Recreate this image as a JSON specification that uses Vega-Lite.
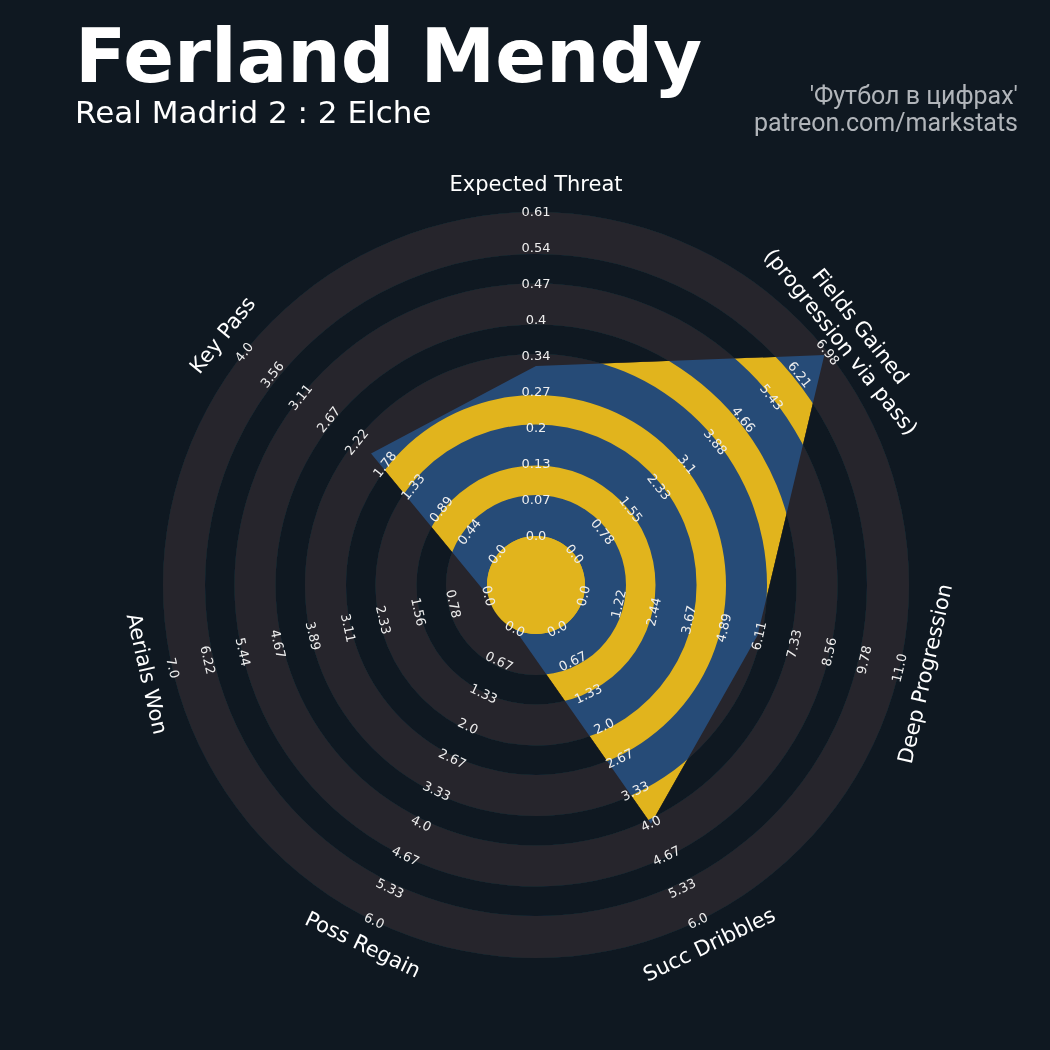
{
  "$schema": "https://vega.github.io/schema/vega-lite/v6.json",
  "width": 1050,
  "height": 1050,
  "autosize": {"type": "none"},
  "padding": 0,
  "background": "#0f1821",
  "config": {"view": {"stroke": null}},
  "datasets": {
    "radar": [
      {"param": "Expected Threat", "label": "Expected Threat", "idx": 0, "value": 0.32, "max": 0.61},
      {"param": "Fields Gained (progression via pass)", "label": "Fields Gained\n(progression via pass)", "idx": 1, "value": 6.89, "max": 6.98},
      {"param": "Deep Progression", "label": "Deep Progression", "idx": 2, "value": 6.05, "max": 11},
      {"param": "Succ Dribbles", "label": "Succ Dribbles", "idx": 3, "value": 4.0, "max": 6},
      {"param": "Poss Regain", "label": "Poss Regain", "idx": 4, "value": 0, "max": 6},
      {"param": "Aerials Won", "label": "Aerials Won", "idx": 5, "value": 0, "max": 7},
      {"param": "Key Pass", "label": "Key Pass", "idx": 6, "value": 2.0, "max": 4}
    ],
    "mask": [
      {"o": 0, "corner": "top"}, {"o": 1, "corner": "ne"}, {"o": 2, "corner": "se"},
      {"o": 3, "corner": "sw"}, {"o": 4, "corner": "nw"}, {"o": 5, "corner": "top"},
      {"o": 6, "param": "Expected Threat"}, {"o": 7, "param": "Key Pass"},
      {"o": 8, "param": "Aerials Won"}, {"o": 9, "param": "Poss Regain"},
      {"o": 10, "param": "Succ Dribbles"}, {"o": 11, "param": "Deep Progression"},
      {"o": 12, "param": "Fields Gained (progression via pass)"}, {"o": 13, "param": "Expected Threat"}
    ],
    "bands": [{"band": 0}, {"band": 1}, {"band": 2}, {"band": 3}, {"band": 4}],
    "ticks": [
      {"i":0,"k":0,"t":"0.0"},{"i":0,"k":1,"t":"0.07"},{"i":0,"k":2,"t":"0.13"},{"i":0,"k":3,"t":"0.2"},{"i":0,"k":4,"t":"0.27"},{"i":0,"k":5,"t":"0.34"},{"i":0,"k":6,"t":"0.4"},{"i":0,"k":7,"t":"0.47"},{"i":0,"k":8,"t":"0.54"},{"i":0,"k":9,"t":"0.61"},
      {"i":1,"k":0,"t":"0.0"},{"i":1,"k":1,"t":"0.78"},{"i":1,"k":2,"t":"1.55"},{"i":1,"k":3,"t":"2.33"},{"i":1,"k":4,"t":"3.1"},{"i":1,"k":5,"t":"3.88"},{"i":1,"k":6,"t":"4.66"},{"i":1,"k":7,"t":"5.43"},{"i":1,"k":8,"t":"6.21"},{"i":1,"k":9,"t":"6.98"},
      {"i":2,"k":0,"t":"0.0"},{"i":2,"k":1,"t":"1.22"},{"i":2,"k":2,"t":"2.44"},{"i":2,"k":3,"t":"3.67"},{"i":2,"k":4,"t":"4.89"},{"i":2,"k":5,"t":"6.11"},{"i":2,"k":6,"t":"7.33"},{"i":2,"k":7,"t":"8.56"},{"i":2,"k":8,"t":"9.78"},{"i":2,"k":9,"t":"11.0"},
      {"i":3,"k":0,"t":"0.0"},{"i":3,"k":1,"t":"0.67"},{"i":3,"k":2,"t":"1.33"},{"i":3,"k":3,"t":"2.0"},{"i":3,"k":4,"t":"2.67"},{"i":3,"k":5,"t":"3.33"},{"i":3,"k":6,"t":"4.0"},{"i":3,"k":7,"t":"4.67"},{"i":3,"k":8,"t":"5.33"},{"i":3,"k":9,"t":"6.0"},
      {"i":4,"k":0,"t":"0.0"},{"i":4,"k":1,"t":"0.67"},{"i":4,"k":2,"t":"1.33"},{"i":4,"k":3,"t":"2.0"},{"i":4,"k":4,"t":"2.67"},{"i":4,"k":5,"t":"3.33"},{"i":4,"k":6,"t":"4.0"},{"i":4,"k":7,"t":"4.67"},{"i":4,"k":8,"t":"5.33"},{"i":4,"k":9,"t":"6.0"},
      {"i":5,"k":0,"t":"0.0"},{"i":5,"k":1,"t":"0.78"},{"i":5,"k":2,"t":"1.56"},{"i":5,"k":3,"t":"2.33"},{"i":5,"k":4,"t":"3.11"},{"i":5,"k":5,"t":"3.89"},{"i":5,"k":6,"t":"4.67"},{"i":5,"k":7,"t":"5.44"},{"i":5,"k":8,"t":"6.22"},{"i":5,"k":9,"t":"7.0"},
      {"i":6,"k":0,"t":"0.0"},{"i":6,"k":1,"t":"0.44"},{"i":6,"k":2,"t":"0.89"},{"i":6,"k":3,"t":"1.33"},{"i":6,"k":4,"t":"1.78"},{"i":6,"k":5,"t":"2.22"},{"i":6,"k":6,"t":"2.67"},{"i":6,"k":7,"t":"3.11"},{"i":6,"k":8,"t":"3.56"},{"i":6,"k":9,"t":"4.0"}
    ]
  },
  "layer": [
    {
      "data": {"values": [{}]},
      "mark": {"type": "rect", "color": "#0f1821"},
      "encoding": {
        "x": {"datum": -390, "type": "quantitative", "scale": {"domain": [-536, 514], "nice": false, "zero": false}, "axis": null},
        "x2": {"datum": 390},
        "y": {"datum": -390, "type": "quantitative", "scale": {"domain": [-465, 585], "nice": false, "zero": false}, "axis": null},
        "y2": {"datum": 390}
      }
    },
    {
      "data": {"name": "radar"},
      "transform": [
        {"calculate": "49 + 324 * datum.value / datum.max", "as": "rr"},
        {"calculate": "PI / 2 - datum.idx * 2 * PI / 7", "as": "ang"},
        {"calculate": "datum.rr * cos(datum.ang)", "as": "px"},
        {"calculate": "datum.rr * sin(datum.ang)", "as": "py"}
      ],
      "mark": {"type": "line", "interpolate": "linear-closed", "fill": "#e1b41d", "stroke": "#e1b41d", "strokeWidth": 0},
      "encoding": {
        "x": {"field": "px", "type": "quantitative", "scale": {"domain": [-536, 514], "nice": false, "zero": false}, "axis": null},
        "y": {"field": "py", "type": "quantitative", "scale": {"domain": [-465, 585], "nice": false, "zero": false}, "axis": null},
        "order": {"field": "idx", "type": "quantitative"}
      }
    },
    {
      "data": {"name": "bands"},
      "transform": [
        {"calculate": "49 + 70.5 * datum.band", "as": "r0"},
        {"calculate": "datum.band == 4 ? 373 : 90 + 70.5 * datum.band", "as": "r1"}
      ],
      "mark": {"type": "arc", "color": "#264b77"},
      "encoding": {
        "x": {"datum": 0, "type": "quantitative", "scale": {"domain": [-536, 514], "nice": false, "zero": false}, "axis": null},
        "y": {"datum": 0, "type": "quantitative", "scale": {"domain": [-465, 585], "nice": false, "zero": false}, "axis": null},
        "radius": {"field": "r1", "type": "quantitative", "scale": {"type": "linear", "domain": [0, 373], "range": [0, 373], "zero": true}},
        "radius2": {"field": "r0"},
        "theta": {"value": 0},
        "theta2": {"value": 6.2832}
      }
    },
    {
      "data": {"name": "mask"},
      "transform": [
        {"lookup": "param", "from": {"data": {"name": "radar"}, "key": "param", "fields": ["idx", "value", "max"]}},
        {"calculate": "datum.corner ? 0 : 49 + 324 * datum.value / datum.max", "as": "rr"},
        {"calculate": "datum.corner ? 0 : PI / 2 - datum.idx * 2 * PI / 7", "as": "ang"},
        {"calculate": "datum.corner ? (datum.corner == 'ne' || datum.corner == 'se' ? 385 : (datum.corner == 'top' ? 0 : -385)) : datum.rr * cos(datum.ang)", "as": "mx"},
        {"calculate": "datum.corner ? (datum.corner == 'se' || datum.corner == 'sw' ? -385 : 385) : datum.rr * sin(datum.ang)", "as": "my"}
      ],
      "mark": {"type": "line", "interpolate": "linear-closed", "fill": "#29252c", "stroke": "#29252c", "strokeWidth": 0, "blend": "darken"},
      "encoding": {
        "x": {"field": "mx", "type": "quantitative", "scale": {"domain": [-536, 514], "nice": false, "zero": false}, "axis": null},
        "y": {"field": "my", "type": "quantitative", "scale": {"domain": [-465, 585], "nice": false, "zero": false}, "axis": null},
        "order": {"field": "o", "type": "quantitative"}
      }
    },
    {
      "data": {"values": [{}]},
      "mark": {"type": "arc", "color": "#e1b41d"},
      "encoding": {
        "x": {"datum": 0, "type": "quantitative", "scale": {"domain": [-536, 514], "nice": false, "zero": false}, "axis": null},
        "y": {"datum": 0, "type": "quantitative", "scale": {"domain": [-465, 585], "nice": false, "zero": false}, "axis": null},
        "radius": {"datum": 49, "type": "quantitative", "scale": {"type": "linear", "domain": [0, 373], "range": [0, 373], "zero": true}},
        "theta": {"value": 0},
        "theta2": {"value": 6.2832}
      }
    },
    {
      "data": {"name": "ticks"},
      "transform": [
        {"calculate": "49 + 36 * datum.k", "as": "rr"},
        {"calculate": "PI / 2 - datum.i * 2 * PI / 7", "as": "ang"},
        {"calculate": "datum.rr * cos(datum.ang)", "as": "tx"},
        {"calculate": "datum.rr * sin(datum.ang)", "as": "ty"},
        {"calculate": "datum.i * 360 / 7", "as": "deg"},
        {"calculate": "datum.deg > 90 && datum.deg < 270 ? datum.deg - 180 : (datum.deg >= 270 ? datum.deg - 360 : datum.deg)", "as": "rot"}
      ],
      "mark": {"type": "text", "font": "DejaVu Sans", "fontSize": 13, "color": "#eeeeee", "align": "center", "baseline": "middle"},
      "encoding": {
        "x": {"field": "tx", "type": "quantitative", "scale": {"domain": [-536, 514], "nice": false, "zero": false}, "axis": null},
        "y": {"field": "ty", "type": "quantitative", "scale": {"domain": [-465, 585], "nice": false, "zero": false}, "axis": null},
        "text": {"field": "t"},
        "angle": {"field": "rot", "type": "quantitative", "scale": null}
      }
    },
    {
      "data": {"name": "radar"},
      "transform": [
        {"calculate": "PI / 2 - datum.idx * 2 * PI / 7", "as": "ang"},
        {"calculate": "datum.idx == 1 ? 414 : 400", "as": "lr"},
        {"calculate": "datum.lr * cos(datum.ang)", "as": "lx"},
        {"calculate": "datum.lr * sin(datum.ang)", "as": "ly"},
        {"calculate": "datum.idx * 360 / 7", "as": "deg"},
        {"calculate": "datum.deg > 90 && datum.deg < 270 ? datum.deg - 180 : (datum.deg >= 270 ? datum.deg - 360 : datum.deg)", "as": "rot"}
      ],
      "mark": {"type": "text", "font": "DejaVu Sans", "fontSize": 21, "color": "#ffffff", "align": "center", "baseline": "middle", "lineBreak": "\n", "lineHeight": 25},
      "encoding": {
        "x": {"field": "lx", "type": "quantitative", "scale": {"domain": [-536, 514], "nice": false, "zero": false}, "axis": null},
        "y": {"field": "ly", "type": "quantitative", "scale": {"domain": [-465, 585], "nice": false, "zero": false}, "axis": null},
        "text": {"field": "label"},
        "angle": {"field": "rot", "type": "quantitative", "scale": null}
      }
    },
    {
      "data": {"values": [{}]},
      "mark": {"type": "text", "font": "DejaVu Sans", "fontSize": 75, "fontWeight": "bold", "color": "#ffffff", "align": "left", "baseline": "alphabetic"},
      "encoding": {
        "x": {"datum": -461, "type": "quantitative", "scale": {"domain": [-536, 514], "nice": false, "zero": false}, "axis": null},
        "y": {"datum": 503, "type": "quantitative", "scale": {"domain": [-465, 585], "nice": false, "zero": false}, "axis": null},
        "text": {"value": "Ferland Mendy"}
      }
    },
    {
      "data": {"values": [{}]},
      "mark": {"type": "text", "font": "DejaVu Sans", "fontSize": 31, "color": "#ffffff", "align": "left", "baseline": "alphabetic"},
      "encoding": {
        "x": {"datum": -461, "type": "quantitative", "scale": {"domain": [-536, 514], "nice": false, "zero": false}, "axis": null},
        "y": {"datum": 462, "type": "quantitative", "scale": {"domain": [-465, 585], "nice": false, "zero": false}, "axis": null},
        "text": {"value": "Real Madrid 2 : 2 Elche"}
      }
    },
    {
      "data": {"values": [{}]},
      "mark": {"type": "text", "font": "Roboto", "fontSize": 25, "color": "#b1b5ba", "align": "right", "baseline": "alphabetic"},
      "encoding": {
        "x": {"datum": 482, "type": "quantitative", "scale": {"domain": [-536, 514], "nice": false, "zero": false}, "axis": null},
        "y": {"datum": 481, "type": "quantitative", "scale": {"domain": [-465, 585], "nice": false, "zero": false}, "axis": null},
        "text": {"value": "'Футбол в цифрах'"}
      }
    },
    {
      "data": {"values": [{}]},
      "mark": {"type": "text", "font": "Roboto", "fontSize": 25, "color": "#b1b5ba", "align": "right", "baseline": "alphabetic"},
      "encoding": {
        "x": {"datum": 482, "type": "quantitative", "scale": {"domain": [-536, 514], "nice": false, "zero": false}, "axis": null},
        "y": {"datum": 454, "type": "quantitative", "scale": {"domain": [-465, 585], "nice": false, "zero": false}, "axis": null},
        "text": {"value": "patreon.com/markstats"}
      }
    }
  ]
}
